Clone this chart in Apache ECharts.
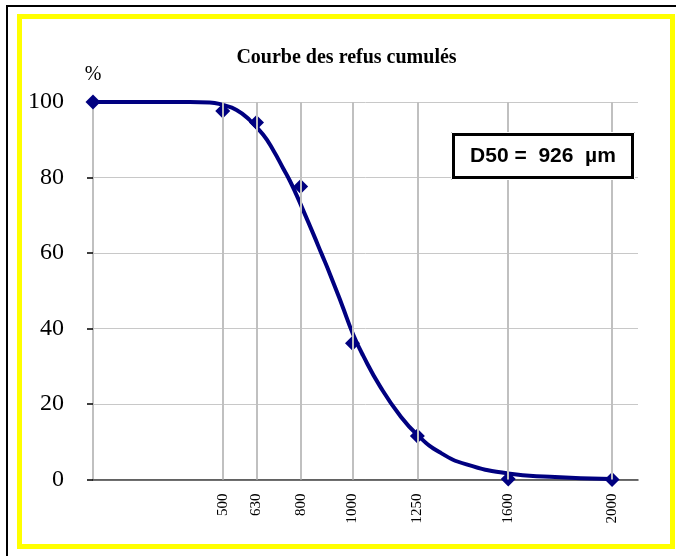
<!DOCTYPE html>
<html><head><meta charset="utf-8">
<script src="https://cdn.jsdelivr.net/npm/echarts@6/dist/echarts.min.js"></script>
<style>html,body{margin:0;padding:0;background:#fff}#c{width:676px;height:556px}</style>
</head><body><div id="c"></div>
<script>
// Measured points (sieve size in µm, cumulative retained %)
const sieveSizes = [0, 500, 630, 800, 1000, 1250, 1600, 2000];
const refusCumules = [100, 97.6, 94.6, 77.6, 36.1, 11.5, 0.1, 0];
// Fitted curve
const curveX = [0, 373, 450, 500, 553, 604, 656, 694, 733, 758, 784, 810, 848, 880, 912, 958, 1002, 1041, 1105, 1182, 1253, 1336, 1439, 1599, 1760, 2000];
const curveY = [100, 100, 99.9, 99.2, 97.9, 95.2, 91.3, 87.3, 82.4, 79.2, 75.4, 71.3, 65.2, 59.9, 54.6, 46.5, 38.5, 32.8, 24.8, 17.0, 11.6, 7.2, 4.0, 1.6, 0.7, 0.1];
const xTickLabels = [500, 630, 800, 1000, 1250, 1600, 2000];
const yTickLabels = [0, 20, 40, 60, 80, 100];
const titleText = 'Courbe des refus cumulés';
const yUnitText = '%';
const d50Text = 'D50 =  926  µm';

const chart = echarts.init(document.getElementById('c'), null, {renderer: 'canvas'});
const navy = '#000080';
chart.setOption({
  animation: false,
  backgroundColor: '#ffffff',
  grid: {left: 93, right: 38, top: 102, bottom: 76.5},
  xAxis: {
    type: 'value', min: 0, max: 2100,
    splitLine: {show: false},
    axisTick: {show: false},
    axisLine: {lineStyle: {color: '#404040', width: 1.5}},
    axisLabel: {
      customValues: xTickLabels,
      formatter: v => String(v),
      rotate: 90, margin: 14,
      fontFamily: 'Liberation Serif, Times New Roman, serif', fontSize: 15, color: '#000'
    }
  },
  yAxis: {
    type: 'value', min: 0, max: 100, interval: 20,
    axisLine: {show: true, lineStyle: {color: '#c0c0c0', width: 2}},
    axisTick: {show: true, length: 6, lineStyle: {color: '#000', width: 1.5}},
    axisLabel: {
      margin: 29,
      formatter: v => yTickLabels.includes(v) ? String(v) : '',
      fontFamily: 'Liberation Serif, Times New Roman, serif', fontSize: 24, color: '#000'
    },
    splitLine: {lineStyle: {color: '#c8c8c8', width: 1}}
  },
  series: [
    {
      type: 'line', data: [], z: 1, silent: true,
      markLine: {
        silent: true, symbol: 'none', label: {show: false},
        lineStyle: {color: '#c0c0c0', width: 2, type: 'solid'},
        data: xTickLabels.map(v => ({xAxis: v}))
      }
    },
    {
      type: 'line', z: 3, smooth: 0.5, showSymbol: false, silent: true,
      lineStyle: {color: navy, width: 4},
      data: curveX.map((x, i) => [x, curveY[i]])
    },
    {
      type: 'scatter', z: 4, symbol: 'diamond', symbolSize: 15,
      itemStyle: {color: navy, opacity: 1},
      data: sieveSizes.map((x, i) => [x, refusCumules[i]])
    }
  ],
  graphic: [
    {type: 'rect', shape: {x: 7, y: 6, width: 700, height: 600}, style: {fill: 'none', stroke: '#000', lineWidth: 2}, z: 100},
    {type: 'rect', shape: {x: 19.5, y: 16.5, width: 653, height: 530}, style: {fill: 'none', stroke: '#ffff00', lineWidth: 5}, z: 100},
    {type: 'text', x: 346.5, y: 58, style: {text: titleText, font: 'bold 20px "Liberation Serif", serif', fill: '#000', align: 'center', verticalAlign: 'middle'}, z: 100},
    {type: 'text', x: 93, y: 75, style: {text: yUnitText, font: '20px "Liberation Serif", serif', fill: '#000', align: 'center', verticalAlign: 'middle'}, z: 100},
    {type: 'rect', shape: {x: 453, y: 134, width: 180, height: 44}, style: {fill: '#fff', stroke: '#000', lineWidth: 4}, z: 100},
    {type: 'rect', shape: {x: 451.5, y: 132.5, width: 183, height: 47}, style: {fill: 'none', stroke: '#fff', lineWidth: 1}, z: 101},
    {type: 'text', x: 543, y: 156, style: {text: d50Text, font: 'bold 21px "Liberation Sans", Arial, sans-serif', fill: '#000', align: 'center', verticalAlign: 'middle'}, z: 102}
  ]
});
</script>
</body></html>
